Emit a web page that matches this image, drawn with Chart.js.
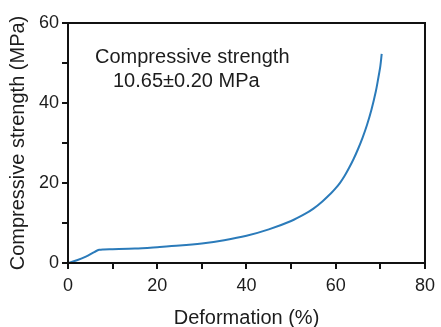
<!DOCTYPE html>
<html><head><meta charset="utf-8">
<script src="https://cdn.jsdelivr.net/npm/chart.js@4/dist/chart.umd.min.js"></script>
<style>html,body{margin:0;padding:0;background:#fff}#wrap{width:441px;height:327px}</style>
</head><body><div id="wrap"><canvas id="c" width="441" height="327"></canvas></div>
<script>
const deformation = [0, 2, 4, 6, 7, 8, 10, 15, 20, 25, 30, 35, 40, 45, 50, 53, 55, 57, 59, 60, 61, 62, 63, 64, 65, 66, 67, 68, 69, 69.5, 70, 70.3];
const strength    = [0, 0.7, 1.6, 2.8, 3.3, 3.4, 3.45, 3.6, 3.95, 4.35, 4.9, 5.7, 6.8, 8.4, 10.5, 12.2, 13.6, 15.4, 17.5, 18.7, 20.1, 21.8, 23.8, 26.0, 28.5, 31.3, 34.5, 38.3, 43.0, 46.0, 49.3, 52.3];
const xTicks = [0, 20, 40, 60, 80];
const yTicks = [0, 20, 40, 60];
const noteLines = ['Compressive strength', '10.65\u00b10.20 MPa'];
const xTitle = 'Deformation (%)';
const yTitle = 'Compressive strength (MPa)';

const FONT = "'Liberation Sans', Arial, sans-serif";
const TXT = '#1c1c1c';

const framePlugin = {
  id: 'frame',
  afterDatasetsDraw(chart) {
    const {ctx, chartArea: a} = chart;
    ctx.save();
    ctx.strokeStyle = '#111';
    ctx.lineWidth = 2;
    ctx.strokeRect(a.left, a.top, a.right - a.left, a.bottom - a.top);
    ctx.fillStyle = TXT;
    ctx.font = "20px " + FONT;
    ctx.textBaseline = 'alphabetic';
    ctx.fillText(noteLines[0], 95, 63);
    ctx.fillText(noteLines[1], 113, 87);
    ctx.restore();
  }
};

new Chart(document.getElementById('c'), {
  type: 'line',
  data: {
    datasets: [{
      data: deformation.map((x, i) => ({x, y: strength[i]})),
      borderColor: '#2b7bba',
      borderWidth: 2,
      pointRadius: 0,
      tension: 0.3,
      fill: false
    }]
  },
  options: {
    responsive: false,
    animation: false,
    layout: {padding: {top: 23, right: 15, left: 0, bottom: 0}},
    plugins: {legend: {display: false}, tooltip: {enabled: false}},
    scales: {
      x: {
        type: 'linear', min: 0, max: 80,
        afterFit(s) { s.height = 64; },
        ticks: {stepSize: 10, autoSkip: false, maxRotation: 0, padding: 6, color: TXT,
          font: {size: 18, family: FONT},
          callback: v => xTicks.includes(v) ? String(v) : ''},
        grid: {drawOnChartArea: false, drawTicks: true, tickLength: 6, color: '#111', lineWidth: 2},
        border: {color: '#111', width: 2},
        title: {display: true, text: xTitle, color: TXT, font: {size: 20, family: FONT}, padding: {top: 0, bottom: -3}}
      },
      y: {
        min: 0, max: 60,
        afterFit(s) { s.width = 68; },
        ticks: {stepSize: 10, autoSkip: false, padding: 3, color: TXT,
          font: {size: 18, family: FONT},
          callback: v => yTicks.includes(v) ? String(v) : ''},
        grid: {drawOnChartArea: false, drawTicks: true, tickLength: 6, color: '#111', lineWidth: 2},
        border: {color: '#111', width: 2},
        title: {display: true, text: yTitle, color: TXT, font: {size: 20, family: FONT}, padding: {top: 6, bottom: 0}}
      }
    }
  },
  plugins: [framePlugin]
});
</script></body></html>
